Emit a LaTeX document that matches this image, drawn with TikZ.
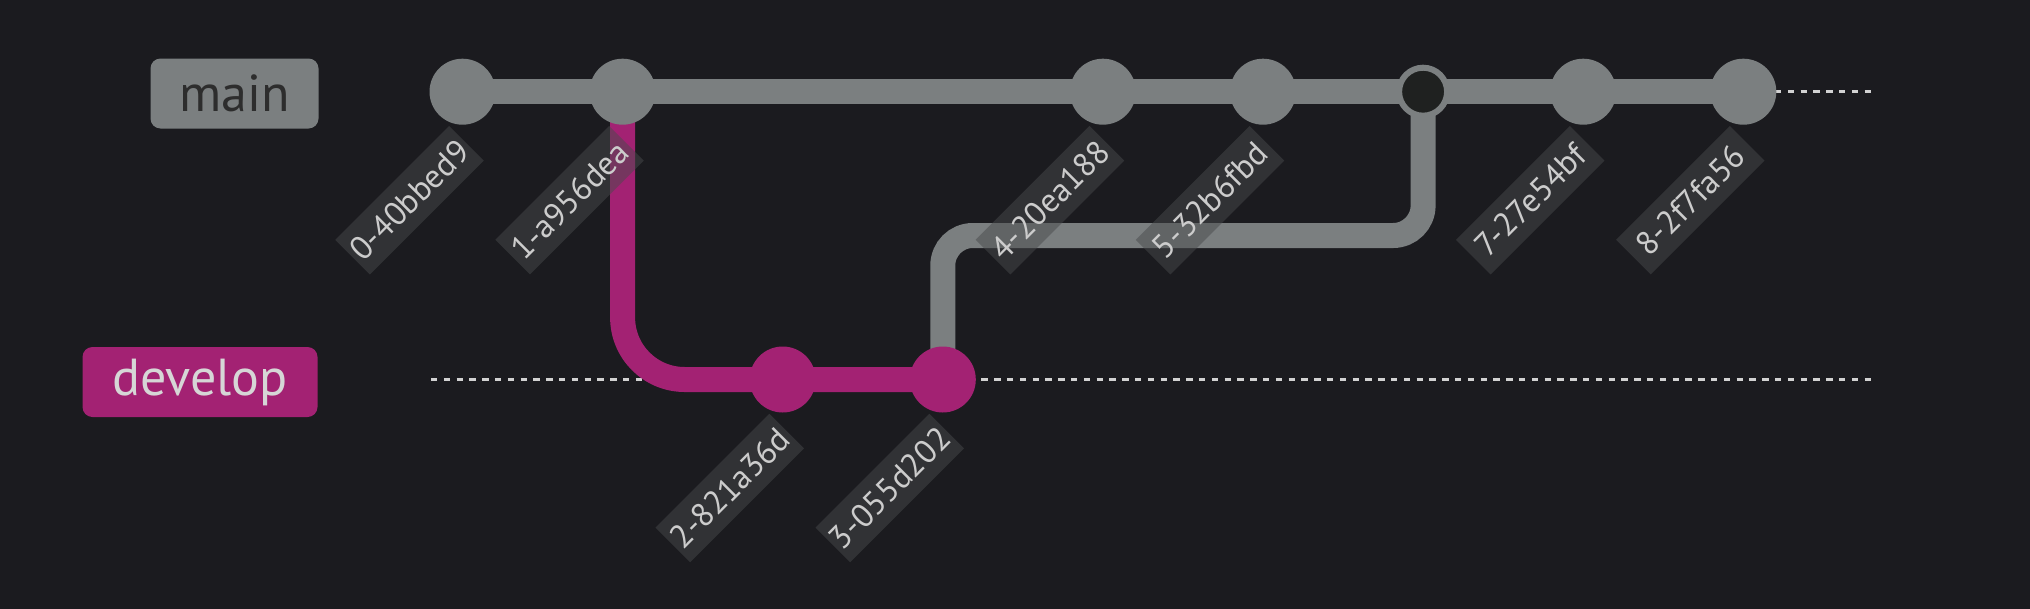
\documentclass[tikz,border=0pt]{standalone}
\usepackage{fontspec}
\setmainfont{PT Sans}
\usetikzlibrary{calc}
\definecolor{bgc}{HTML}{1B1B1F}
\definecolor{gitgray}{HTML}{7B7F80}
\definecolor{gitmag}{HTML}{A32273}
\definecolor{mergedark}{HTML}{1F2120}
\definecolor{labelbg}{HTML}{484A4C}
\definecolor{labeltext}{HTML}{CCCCCC}
\definecolor{maintext}{HTML}{2D2D2D}
\definecolor{devtext}{HTML}{D6D6D6}
\definecolor{dotc}{HTML}{D2D2D2}
\pgfdeclarelayer{back}
\pgfdeclarelayer{bg}
\pgfsetlayers{back,bg,main}
\begin{document}
\begin{tikzpicture}[x=1pt,y=-1pt,
  commitg/.style={circle,fill=gitgray,minimum size=66pt,inner sep=0pt},
  commitm/.style={circle,fill=gitmag,minimum size=66pt,inner sep=0pt},
  mergec/.style={circle,draw=gitgray,line width=6pt,fill=mergedark,minimum size=48pt,inner sep=0pt},
  clabel/.style={rotate=45,fill=labelbg,fill opacity=0.5,text opacity=1,text=labeltext,
     font=\fontsize{33}{39}\selectfont,minimum width=161pt,minimum height=49pt,inner sep=0pt},
  blabel/.style={rounded corners=10pt,minimum height=70pt,inner sep=0pt,font=\fontsize{52}{62}\selectfont},
  grayline/.style={draw=gitgray,line width=25pt},
  magline/.style={draw=gitmag,line width=25pt},
  dotline/.style={draw=dotc,line width=3.3pt,dash pattern=on 6.4pt off 6.4pt}
]
\useasboundingbox (0,0) rectangle (2030,608);
\begin{pgfonlayer}{back}
\fill[bgc] (-10,-10) rectangle (2040,618);
\end{pgfonlayer}

% branch labels
\node[blabel,fill=gitgray,text=maintext,minimum width=168pt] (mainlbl) at (234.5,93.5) {main};
\node[blabel,fill=gitmag,text=devtext,minimum width=235pt] (devlbl) at (200,382) {develop};

% commits
\node[commitg] (c0) at (462.5,91.7) {};
\node[commitg] (c1) at (622.6,91.7) {};
\node[commitm] (c2) at (782.7,379.5) {};
\node[commitm] (c3) at (942.8,379.5) {};
\node[commitg] (c4) at (1102.9,91.7) {};
\node[commitg] (c5) at (1263.0,91.7) {};
\node[mergec]  (c6) at (1423.1,91.7) {};
\node[commitg] (c7) at (1583.2,91.7) {};
\node[commitg] (c8) at (1743.3,91.7) {};

\coordinate (ms) at (431,91.7);
\coordinate (me) at (1871,91.7);
\coordinate (ds) at (431,379.5);
\coordinate (de) at (1871,379.5);
\coordinate (j) at (0,235.5);

\begin{pgfonlayer}{bg}
\draw[dotline] (ms) -- (me);
\draw[dotline] (ds) -- (de);
\draw[magline,rounded corners=62pt] (c1.center) |- (c2.center) -- (c3.center);
\draw[grayline,rounded corners=30pt] (c3.center) -- (c3.center |- j) -| (c6.center);
\draw[grayline] (c0.center) -- (c8.center);
\end{pgfonlayer}

% commit labels
\node[clabel] (l0) at ($(c0)+(-53,108.5)$) {0-40bbed9};
\node[clabel] (l1) at ($(c1)+(-53,108.5)$) {1-a956dea};
\node[clabel] (l2) at ($(c2)+(-53,108.5)$) {2-821a36d};
\node[clabel] (l3) at ($(c3)+(-53,108.5)$) {3-055d202};
\node[clabel] (l4) at ($(c4)+(-53,108.5)$) {4-20ea188};
\node[clabel] (l5) at ($(c5)+(-53,108.5)$) {5-32b6fbd};
\node[clabel] (l7) at ($(c7)+(-53,108.5)$) {7-27e54bf};
\node[clabel] (l8) at ($(c8)+(-53,108.5)$) {8-2f7fa56};
\end{tikzpicture}
\end{document}
